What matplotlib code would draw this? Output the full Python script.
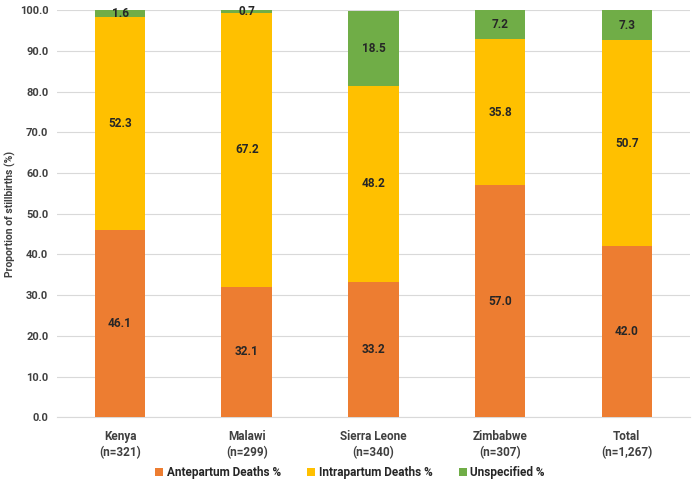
import matplotlib.pyplot as plt
import numpy as np

plt.rcParams['font.family'] = ['Roboto', 'DejaVu Sans']
plt.rcParams['font.weight'] = 'bold'

categories = ["Kenya\n(n=321)", "Malawi\n(n=299)", "Sierra Leone\n(n=340)",
              "Zimbabwe\n(n=307)", "Total\n(n=1,267)"]
antepartum = [46.1, 32.1, 33.2, 57.0, 42.0]
intrapartum = [52.3, 67.2, 48.2, 35.8, 50.7]
unspecified = [1.6, 0.7, 18.5, 7.2, 7.3]

series = [("Antepartum Deaths %", antepartum, "#ED7D31"),
          ("Intrapartum Deaths %", intrapartum, "#FFC000"),
          ("Unspecified %", unspecified, "#70AD47")]

fig = plt.figure(figsize=(7, 4.84), dpi=100)
ax = fig.add_axes([0.081, 0.138, 0.905, 0.841])

x = np.arange(len(categories))
bottom = np.zeros(len(categories))
for name, vals, col in series:
    vals = np.array(vals)
    ax.bar(x, vals, 0.4, bottom=bottom, color=col, label=name, zorder=3)
    for xi, b, v in zip(x, bottom, vals):
        ax.text(xi, b + v / 2, f"{v:.1f}", ha='center', va='center',
                fontsize=8.5, fontweight='bold', color='#262626', zorder=4)
    bottom += vals

ax.set_xlim(-0.5, len(categories) - 0.5)
ax.set_ylim(0, 100)
ax.set_yticks(np.arange(0, 101, 10))
ax.set_yticklabels([f"{t:.1f}" for t in np.arange(0, 101, 10)], fontweight='bold')
ax.set_xticks(x)
ax.set_xticklabels(categories, linespacing=1.35, fontweight='bold')
ax.tick_params(length=0, labelsize=8.5, colors='#404040', pad=9)
ax.tick_params(axis='y', labelsize=8, pad=6)
ax.grid(axis='y', color='#D9D9D9', linewidth=0.8, zorder=0)
for s in ['top', 'right', 'left']:
    ax.spines[s].set_visible(False)
ax.spines['bottom'].set_color('#D9D9D9')
fig.text(0.015, 0.138 + 0.841 / 2, "Proportion of stillbirths (%)", rotation=90,
         ha='center', va='center', fontsize=7.5, fontweight='bold', color='#404040')

fig.legend(loc='lower center', ncol=3, frameon=False,
           prop={'size': 8.5, 'weight': 'bold'},
           bbox_to_anchor=(0.5, -0.012), handlelength=0.7, handleheight=0.7,
           handletextpad=0.3, columnspacing=2.2, labelcolor='#262626')

fig.savefig("out.png", dpi=100)
